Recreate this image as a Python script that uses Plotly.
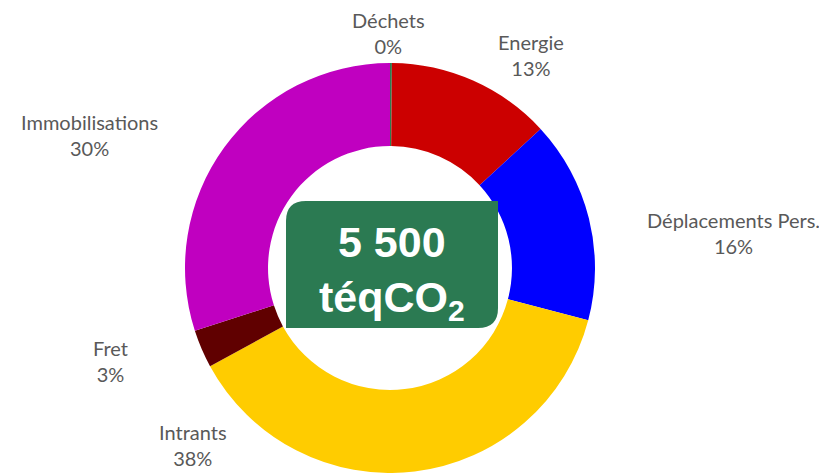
import plotly.graph_objects as go

# Data
categories = ["Déchets", "Energie", "Déplacements Pers.", "Intrants", "Fret", "Immobilisations"]
values = [0.15, 13, 16, 38, 3, 30]
pct_labels = ["0%", "13%", "16%", "38%", "3%", "30%"]
colors = ["#2e7d4f", "#cc0000", "#0000ff", "#ffcc00", "#600000", "#c000c0"]
total_value = "5 500"
total_unit = "téqCO<sub>2</sub>"

OFF = 8  # page body margin
W, H = 827 - OFF, 473 - OFF


def X(v):
    return (v - OFF) / W


def Y(v):
    return 1 - (v - OFF) / H


fig = go.Figure()
fig.add_trace(go.Pie(
    labels=categories,
    values=values,
    hole=0.595,
    sort=False,
    direction="clockwise",
    rotation=0,
    textinfo="none",
    marker=dict(colors=colors, line=dict(width=0)),
    domain=dict(x=[X(185), X(595)], y=[0, Y(63)]),
    showlegend=False,
    hoverinfo="label+percent",
))

# label positions (pixels, center of text block)
label_pos = [(388, 33), (531, 55), (733, 233), (193, 445), (110, 361), (89, 135)]
for cat, pct, (px, py) in zip(categories, pct_labels, label_pos):
    fig.add_annotation(
        x=X(px), y=Y(py), xref="paper", yref="paper",
        text=f"{cat}<br>{pct}", showarrow=False,
        xanchor="center", yanchor="middle", align="center",
        font=dict(family="Lato", size=20, color="#595959"),
    )

# green box with rounded top-left and bottom-right corners
x0, x1, y0, y1, r = 286, 498, 201, 328, 20
path = (
    f"M {X(x0)},{Y(y0 + r)} "
    f"Q {X(x0)},{Y(y0)} {X(x0 + r)},{Y(y0)} "
    f"L {X(x1)},{Y(y0)} "
    f"L {X(x1)},{Y(y1 - r)} "
    f"Q {X(x1)},{Y(y1)} {X(x1 - r)},{Y(y1)} "
    f"L {X(x0)},{Y(y1)} Z"
)
fig.add_shape(type="path", path=path, xref="paper", yref="paper",
              fillcolor="#2b7a52", line=dict(width=0), layer="above")

fig.add_annotation(
    x=X(392), y=Y(242), xref="paper", yref="paper",
    text=f"<b>{total_value}</b>", showarrow=False,
    xanchor="center", yanchor="middle",
    font=dict(family="Liberation Sans", size=43, color="white"),
)
fig.add_annotation(
    x=X(392), y=Y(300), xref="paper", yref="paper",
    text=f"<b>{total_unit}</b>", showarrow=False,
    xanchor="center", yanchor="middle",
    font=dict(family="Liberation Sans", size=43, color="white"),
)

fig.update_layout(
    width=W, height=H,
    margin=dict(l=0, r=0, t=0, b=0),
    paper_bgcolor="white", plot_bgcolor="white",
)

fig.write_html("out.html")
